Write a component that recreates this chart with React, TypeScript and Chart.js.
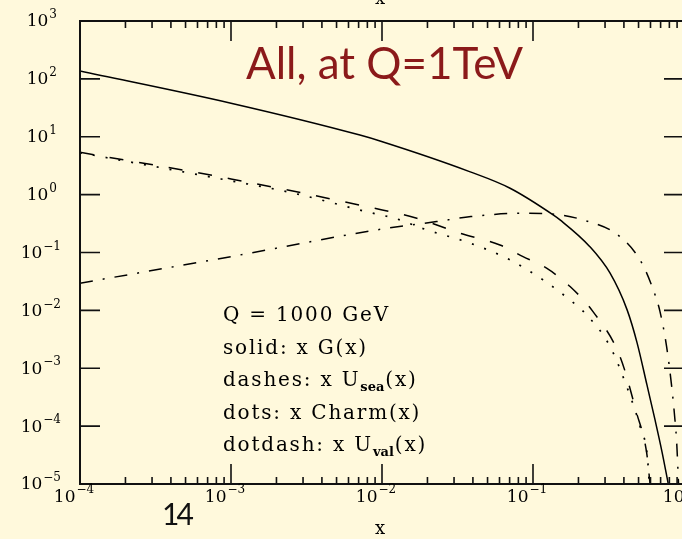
import React, { useEffect, useRef } from "react";
import { Chart, registerables } from "chart.js";

Chart.register(...registerables);

// ---- data ----
const gluonX = [1e-4, 1e-3, 0.00714, 0.0097, 0.038, 0.0705, 0.136, 0.151, 0.238, 0.324, 0.42, 0.489, 0.568, 0.643, 0.715, 0.787];
const gluonY = [137, 38, 10.7, 8.45, 2.5, 1.29, 0.447, 0.366, 0.126, 0.0438, 0.0102, 0.00275, 5.2e-4, 1.28e-4, 3.6e-5, 1e-5];

const seaX = [1e-4, 1e-3, 0.0087, 0.017, 0.0329, 0.0604, 0.0859, 0.123, 0.176, 0.249, 0.377, 0.486, 0.566, 0.596];
const seaY = [5.4, 1.87, 0.589, 0.391, 0.215, 0.135, 0.0849, 0.0535, 0.0258, 0.0096, 0.00159, 1.67e-4, 3.46e-5, 1e-5];

const charmX = [1e-4, 1e-3, 0.0024, 0.0097, 0.0118, 0.0198, 0.0383, 0.0705, 0.1165, 0.167, 0.227, 0.324, 0.418, 0.512, 0.572, 0.589];
const charmY = [5.3, 1.73, 1.11, 0.446, 0.4, 0.246, 0.145, 0.0745, 0.0336, 0.0168, 0.00835, 0.00237, 4.8e-4, 9.8e-5, 2.99e-5, 1e-5];

const valX = [1e-4, 1e-3, 0.0098, 0.023, 0.0388, 0.082, 0.13, 0.214, 0.377, 0.525, 0.643, 0.693, 0.767, 0.829, 0.871, 0.895, 0.92];
const valY = [0.0295, 0.085, 0.252, 0.342, 0.417, 0.476, 0.465, 0.366, 0.188, 0.066, 0.0186, 0.0096, 0.00237, 4.8e-4, 1.29e-4, 5.1e-5, 1e-5];

const xTickExponents = [-4, -3, -2, -1, 0];
const yTickExponents = [3, 2, 1, 0, -1, -2, -3, -4, -5];
const minorMultipliers = [2, 3, 4, 5, 6, 7, 8, 9];

const titleText = "All, at Q=1TeV";
const pageNumber = "14";
const axisTitle = "x";

type Seg = { t: string; sub?: boolean };
const legendLines: Seg[][] = [
  [{ t: "Q = 1000 GeV" }],
  [{ t: "solid: x G(x)" }],
  [{ t: "dashes: x U" }, { t: "sea", sub: true }, { t: "(x)" }],
  [{ t: "dots: x Charm(x)" }],
  [{ t: "dotdash: x U" }, { t: "val", sub: true }, { t: "(x)" }],
];

const BG = "#FFF9DC";
const TITLE_RED = "#8B1A1A";
const SERIF = "'DejaVu Serif', serif";

function pts(xs: number[], ys: number[]) {
  return xs.map((x, i) => ({ x, y: ys[i] }));
}

function drawPow(ctx: CanvasRenderingContext2D, exp: number, anchorX: number, cy: number, mode: "right" | "center", supRaise: number) {
  const base = "10";
  const e = exp < 0 ? "\u2212" + Math.abs(exp) : String(exp);
  ctx.font = `17px ${SERIF}`;
  const w1 = ctx.measureText(base).width;
  ctx.font = `12px ${SERIF}`;
  const w2 = ctx.measureText(e).width;
  const total = w1 + 1 + w2;
  const start = mode === "right" ? anchorX - total : anchorX - total / 2;
  ctx.textBaseline = "middle";
  ctx.textAlign = "left";
  ctx.font = `17px ${SERIF}`;
  ctx.fillText(base, start, cy);
  ctx.font = `12px ${SERIF}`;
  ctx.fillText(e, start + w1 + 1, cy - supRaise);
}

const decorPlugin = {
  id: "decor",
  beforeDraw(chart: any) {
    const ctx = chart.ctx as CanvasRenderingContext2D;
    ctx.save();
    ctx.fillStyle = BG;
    ctx.fillRect(0, 0, chart.width, chart.height);
    ctx.restore();
  },
  afterDraw(chart: any) {
    const ctx = chart.ctx as CanvasRenderingContext2D;
    const { left, right, top, bottom } = chart.chartArea;
    const xs = chart.scales.x;
    const ys = chart.scales.y;
    ctx.save();
    ctx.strokeStyle = "#111";
    ctx.fillStyle = "#111";
    // ticks
    ctx.lineWidth = 1.6;
    ctx.beginPath();
    for (const e of xTickExponents) {
      const mults = [1, ...minorMultipliers];
      for (const m of mults) {
        const v = m * Math.pow(10, e);
        if (v > 1.0000001) continue;
        const px = xs.getPixelForValue(v);
        const len = m === 1 ? 20 : 7;
        ctx.moveTo(px, bottom);
        ctx.lineTo(px, bottom - len);
        ctx.moveTo(px, top);
        ctx.lineTo(px, top + len);
      }
    }
    for (const e of yTickExponents) {
      const py = ys.getPixelForValue(Math.pow(10, e));
      ctx.moveTo(left, py);
      ctx.lineTo(left + 20, py);
      ctx.moveTo(right, py);
      ctx.lineTo(right - 20, py);
    }
    ctx.stroke();
    // frame
    ctx.lineWidth = 2;
    ctx.strokeRect(left, top, right - left, bottom - top);

    // tick labels
    ctx.fillStyle = "#000";
    for (const e of yTickExponents) {
      const py = ys.getPixelForValue(Math.pow(10, e));
      drawPow(ctx, e, e < 0 ? 61 : 57, py + 1, "right", 7);
    }
    for (const e of xTickExponents) {
      const px = xs.getPixelForValue(Math.pow(10, e));
      drawPow(ctx, e, px - 6, 498, "center", 8);
    }

    // axis titles
    ctx.font = `18px ${SERIF}`;
    ctx.textAlign = "center";
    ctx.textBaseline = "alphabetic";
    const cx = xs.getPixelForValue(1e-2);
    ctx.fillText(axisTitle, cx - 2, 534);
    ctx.fillText(axisTitle, cx - 2, 4);

    // legend text
    ctx.textAlign = "left";
    let baseY = 321;
    for (const line of legendLines) {
      let x = 223;
      for (const seg of line) {
        if (seg.sub) {
          ctx.font = `bold 13px ${SERIF}`;
          (ctx as any).letterSpacing = "0px";
          ctx.fillText(seg.t, x, baseY + 5);
          x += ctx.measureText(seg.t).width + 1;
        } else {
          ctx.font = `20px ${SERIF}`;
          (ctx as any).letterSpacing = "1.8px";
          ctx.fillText(seg.t, x, baseY);
          x += ctx.measureText(seg.t).width;
        }
      }
      baseY += 32.5;
    }
    (ctx as any).letterSpacing = "0px";

    // title
    ctx.font = `44px Lato`;
    ctx.fillStyle = TITLE_RED;
    ctx.fillText(titleText, 246, 79);

    // page number
    ctx.font = `30px Lato`;
    (ctx as any).letterSpacing = "-3px";
    ctx.fillStyle = "#111";
    ctx.fillText(pageNumber, 162, 525);
    (ctx as any).letterSpacing = "0px";
    ctx.restore();
  },
};

export default function App() {
  const ref = useRef<HTMLCanvasElement | null>(null);
  useEffect(() => {
    if (!ref.current) return;
    const common = {
      borderColor: "#000",
      borderWidth: 1.5,
      pointRadius: 0,
      fill: false,
      cubicInterpolationMode: "monotone" as const,
      borderCapStyle: "butt" as const,
    };
    const chart = new Chart(ref.current, {
      type: "line",
      data: {
        datasets: [
          { ...common, label: "G", data: pts(gluonX, gluonY) },
          { ...common, label: "Usea", data: pts(seaX, seaY), borderDash: [14, 16] },
          { ...common, label: "Charm", data: pts(charmX, charmY), borderDash: [2, 11], borderWidth: 1.7 },
          { ...common, label: "Uval", data: pts(valX, valY), borderDash: [13, 10, 2, 10] },
        ],
      },
      options: {
        animation: false,
        responsive: false,
        devicePixelRatio: 1,
        layout: { padding: { top: 21, right: 36, left: 0, bottom: 0 } },
        plugins: { legend: { display: false }, tooltip: { enabled: false } },
        scales: {
          x: {
            type: "logarithmic",
            min: 1e-4,
            max: 1,
            grid: { display: false },
            border: { display: false },
            ticks: { display: false, autoSkip: false },
            afterFit: (s: any) => {
              s.height = 55;
            },
          },
          y: {
            type: "logarithmic",
            min: 1e-5,
            max: 1e3,
            grid: { display: false },
            border: { display: false },
            ticks: { display: false, autoSkip: false },
            afterFit: (s: any) => {
              s.width = 80;
            },
          },
        },
      } as any,
      plugins: [decorPlugin],
    });
    return () => chart.destroy();
  }, []);
  return (
    <div style={{ position: "fixed", left: 0, top: 0, width: 682, height: 539, overflow: "hidden", background: BG }}>
      <canvas ref={ref} width={720} height={539} style={{ display: "block", width: 720, height: 539 }} />
    </div>
  );
}
